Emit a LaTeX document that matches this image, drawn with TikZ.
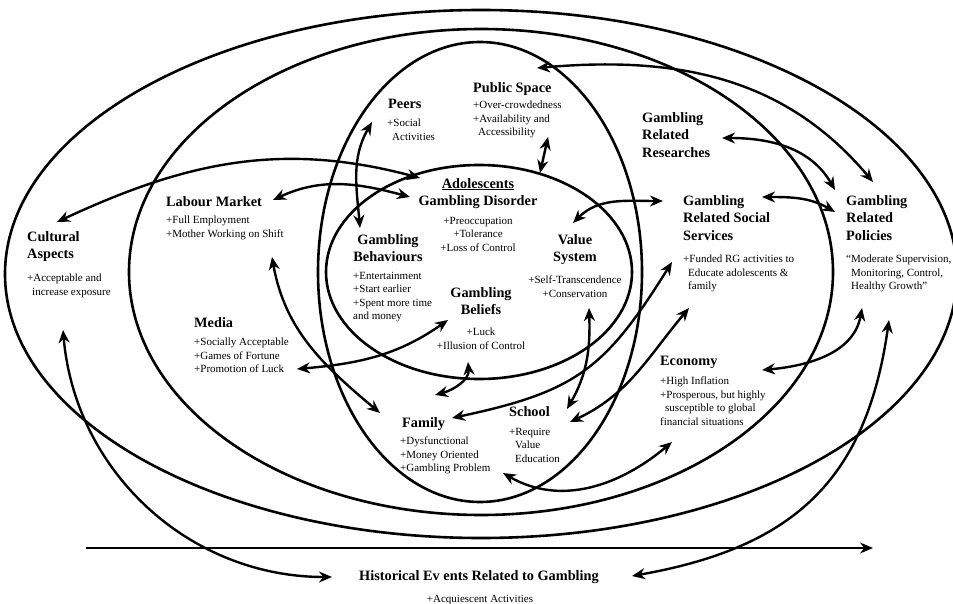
\documentclass[tikz,border=0pt]{standalone}
\usepackage{fontspec}
\setmainfont{Liberation Serif}
\usetikzlibrary{arrows.meta}

\begin{document}
\begin{tikzpicture}[x=1pt, y=1pt, >={Stealth[length=13pt, width=11pt]}]
	\tikzset{ring/.style={line width=2.6pt}}
	\tikzset{link/.style={<->, line width=2.4pt}}
	\tikzset{heading/.style={inner sep=0pt, font=\fontsize{14.3}{17.5}\selectfont\bfseries}}
	\tikzset{items/.style={inner sep=0pt, font=\fontsize{11}{13.5}\selectfont}}
	\useasboundingbox (0,0) rectangle (953,-604);
	% nested circles of influence
	\draw[ring] (481,-274) ellipse [x radius=476, y radius=264];
	\draw[ring] (481,-272) ellipse [x radius=352, y radius=243];
	\draw[ring] (480,-272) ellipse [x radius=162, y radius=230];
	\draw[ring] (479,-272) ellipse [x radius=153, y radius=107];
	% factors
	\node[heading, anchor=north west, align=left] (cul) at (27,-231) {Cultural\\Aspects};
	\node[items, anchor=north west, align=left] (cultxt) at (27,-274) {+Acceptable and\\\hspace*{5pt}increase exposure};
	\node[heading, anchor=north west] (lab) at (166,-196) {Labour Market};
	\node[items, anchor=north west, align=left] (labtxt) at (166,-216) {+Full Employment\\+Mother Working on Shift};
	\node[heading, anchor=north west] (peer) at (388,-99) {Peers};
	\node[items, anchor=north west, align=left] (peertxt) at (387,-119) {+Social\\\hspace*{5pt}Activities};
	\node[heading, anchor=north west] (pub) at (473,-82) {Public Space};
	\node[items, anchor=north west, align=left] (pubtxt) at (473,-101) {+Over-crowdedness\\+Availability and\\\hspace*{5pt}Accessibility};
	\node[heading, anchor=north west, align=left] (res) at (642,-112) {Gambling\\Related\\Researches};
	\node[heading, anchor=north, align=center] (ado) at (478,-178) {\underline{Adolescents}\\Gambling Disorder};
	\node[items, anchor=north, align=center] (adotxt) at (478,-217) {+Preoccupation\\+Tolerance\\+Loss of Control};
	\node[heading, anchor=north, align=center] (beh) at (388,-234) {Gambling\\Behaviours};
	\node[items, anchor=north west, align=left] (behtxt) at (353,-272) {+Entertainment\\+Start earlier\\+Spent more time\\and money};
	\node[heading, anchor=north, align=center] (val) at (575,-234) {Value\\System};
	\node[items, anchor=north, align=center] (valtxt) at (575,-276) {+Self-Transcendence\\+Conservation};
	\node[heading, anchor=north, align=center] (bel) at (481,-287) {Gambling\\Beliefs};
	\node[items, anchor=north, align=center] (beltxt) at (481,-328) {+Luck\\+Illusion of Control};
	\node[heading, anchor=north west, align=left] (soc) at (683,-195) {Gambling\\Related Social\\Services};
	\node[items, anchor=north west, align=left] (soctxt) at (683,-255) {+Funded RG activities to\\\hspace*{5pt}Educate adolescents \&\\\hspace*{5pt}family};
	\node[heading, anchor=north west, align=left] (pol) at (846,-195) {Gambling\\Related\\Policies};
	\node[items, anchor=north west, align=left] (poltxt) at (846,-255) {“Moderate Supervision,\\\hspace*{5pt}Monitoring, Control,\\\hspace*{5pt}Healthy Growth”};
	\node[heading, anchor=north west] (med) at (194,-317) {Media};
	\node[items, anchor=north west, align=left] (medtxt) at (194,-338) {+Socially Acceptable\\+Games of Fortune\\+Promotion of Luck};
	\node[heading, anchor=north west] (fam) at (402,-417) {Family};
	\node[items, anchor=north west, align=left] (famtxt) at (400,-437) {+Dysfunctional\\+Money Oriented\\+Gambling Problem};
	\node[heading, anchor=north west] (sch) at (509,-406) {School};
	\node[items, anchor=north west, align=left] (schtxt) at (509,-428) {+Require\\\hspace*{6pt}Value\\\hspace*{6pt}Education};
	\node[heading, anchor=north west] (eco) at (660,-356) {Economy};
	\node[items, anchor=north west, align=left] (ecotxt) at (660,-377) {+High Inflation\\+Prosperous, but highly\\\hspace*{5pt}susceptible to global\\financial situations};
	\node[heading, anchor=north] (his) at (479,-570) {Historical Ev ents Related to Gambling};
	\node[items, anchor=north] (histxt) at (480,-595) {+Acquiescent Activities};
	% arrow ends
	\coordinate (cul-a) at (57,-222);   \coordinate (cul-b) at (63,-330);
	\coordinate (lab-a) at (273,-200);  \coordinate (lab-b) at (272,-257);
	\coordinate (peer-a) at (372,-122); \coordinate (beh-a) at (360,-228);
	\coordinate (pub-a) at (548,-137);  \coordinate (pub-b) at (537,-68);
	\coordinate (ado-a) at (420,-178);  \coordinate (ado-b) at (410,-197);  \coordinate (ado-c) at (540,-173);
	\coordinate (res-a) at (722,-138);
	\coordinate (pol-a) at (873,-182);  \coordinate (pol-b) at (835,-190);  \coordinate (pol-c) at (835,-212);
	\coordinate (pol-d) at (862,-308);  \coordinate (pol-e) at (889,-320);
	\coordinate (soc-a) at (762,-197);  \coordinate (soc-b) at (663,-201);
	\coordinate (soc-c) at (672,-262);  \coordinate (soc-d) at (689,-308);
	\coordinate (val-a) at (573,-223);  \coordinate (val-b) at (589,-308);
	\coordinate (med-a) at (297,-369);
	\coordinate (bel-a) at (448,-320);  \coordinate (bel-b) at (468,-362);
	\coordinate (fam-a) at (380,-413);  \coordinate (fam-b) at (435,-395);
	\coordinate (fam-c) at (452,-418);  \coordinate (fam-d) at (503,-473);
	\coordinate (sch-a) at (567,-409);  \coordinate (sch-b) at (570,-422);
	\coordinate (eco-a) at (762,-370);  \coordinate (eco-b) at (672,-442);
	\coordinate (his-a) at (332,-577);  \coordinate (his-b) at (632,-576);
	\coordinate (tl-a) at (86,-548);    \coordinate (tl-b) at (873,-548);
	% two-way influences
	\draw[link] (cul-a) to[out=25, in=165] (ado-a);
	\draw[link] (lab-a) to[out=25, in=165] (ado-b);
	\draw[link] (peer-a) to[out=240, in=95] (beh-a);
	\draw[link] (pub-a) -- (ado-c);
	\draw[link] (pub-b) to[out=5, in=130] (pol-a);
	\draw[link] (res-a) to[out=0, in=120] (pol-b);
	\draw[link] (soc-a) to[out=0, in=150] (pol-c);
	\draw[link] (val-a) to[out=45, in=180] (soc-b);
	\draw[link] (med-a) to[out=5, in=215] (bel-a);
	\draw[link] (lab-b) to[out=-80, in=140] (fam-a);
	\draw[link] (bel-b) to[out=-85, in=15] (fam-b);
	\draw[link] (fam-c) to[out=12, in=238, looseness=1.2] (soc-c);
	\draw[link] (sch-b) to[out=25, in=230] (soc-d);
	\draw[link] (val-b) to[out=-88, in=60] (sch-a);
	\draw[link] (fam-d) to[out=-30, in=220] (eco-b);
	\draw[link] (eco-a) to[out=5, in=260] (pol-d);
	\draw[link] (his-b) to[out=10, in=262, looseness=1.15] (pol-e);
	\draw[link] (cul-b) to[out=-85, in=180] (his-a);
	% time line
	\draw[->, line width=2.4pt] (tl-a) -- (tl-b);
\end{tikzpicture}
\end{document}
